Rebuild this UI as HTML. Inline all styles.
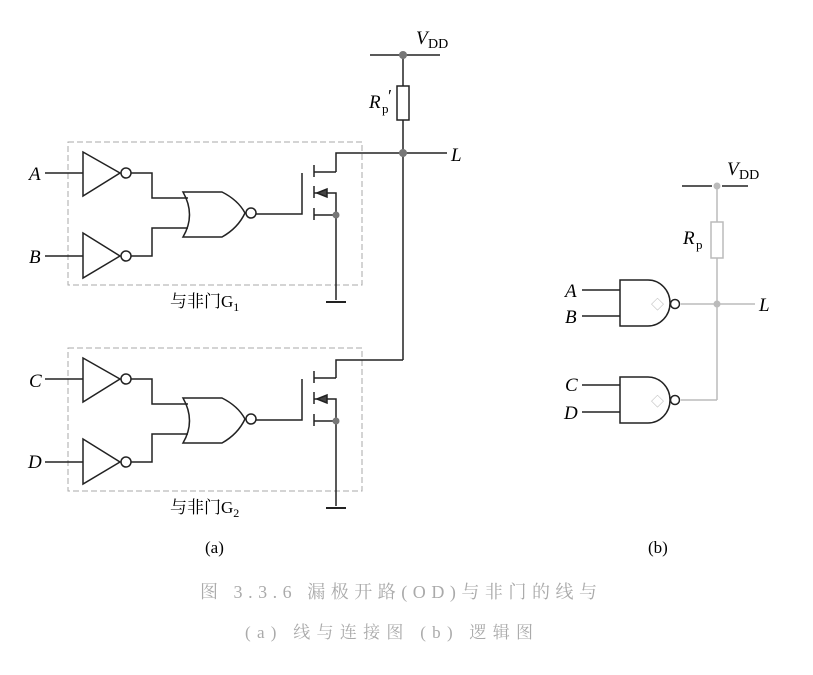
<!DOCTYPE html>
<html><head><meta charset="utf-8"><style>
body{margin:0;background:#fff;}
svg{display:block;}
text{font-family:"Liberation Serif","Noto Serif CJK SC",serif;}
.i{font-style:italic;font-size:19px;}
</style></head><body>
<svg width="813" height="675" viewBox="0 0 813 675" xmlns="http://www.w3.org/2000/svg">
<defs>
<g id="gate" stroke="#222" stroke-width="1.5" fill="none">
  <rect x="68" y="142" width="294" height="143" stroke="#aaa" stroke-width="1" stroke-dasharray="6,3"/>
  <line x1="45" y1="173" x2="83" y2="173"/>
  <path d="M83,152 L120,173 L83,196 Z"/>
  <circle cx="126" cy="173" r="5"/>
  <line x1="45" y1="256" x2="83" y2="256"/>
  <path d="M83,233 L120,256 L83,278 Z"/>
  <circle cx="126" cy="256" r="5"/>
  <path d="M131,173 H152 V198 H188"/>
  <path d="M131,256 H152 V228 H188"/>
  <path d="M183,192 Q205,192 222,192 Q238,200 245,213 Q238,228 222,237 Q205,237 183,237 Q196,215 183,192 Z"/>
  <circle cx="251" cy="213" r="5"/>
  <path d="M256,214 H302 V173"/>
  <line x1="314" y1="165" x2="314" y2="177"/>
  <line x1="314" y1="186" x2="314" y2="198"/>
  <line x1="314" y1="208" x2="314" y2="220"/>
  <path d="M314,172 H336"/>
  <path d="M314,193 H336 V215 M314,215 H336 V300"/>
  <path d="M317,193 L327,189 L327,197 Z" fill="#444"/>
  <circle cx="336" cy="215" r="3.5" fill="#777" stroke="none"/>
  <line x1="326" y1="302" x2="346" y2="302" stroke-width="2"/>
</g>
</defs>
<use href="#gate"/>
<use href="#gate" transform="translate(0,206)"/>
<g stroke="#222" stroke-width="1.5" fill="none">
  <line x1="370" y1="55" x2="440" y2="55"/>
  <line x1="403" y1="55" x2="403" y2="86"/>
  <rect x="397" y="86" width="12" height="34"/>
  <line x1="403" y1="120" x2="403" y2="360"/>
  <path d="M336,172 V153 H447"/>
  <path d="M336,378 V360 H403"/>
</g>
<circle cx="403" cy="55" r="4" fill="#777"/>
<circle cx="403" cy="153" r="4" fill="#777"/>
<text x="416" y="44" class="i">V</text><text x="428" y="48" font-size="14">DD</text>
<text x="369" y="108" class="i">R</text><text x="382" y="113" font-size="13">p</text><text x="388" y="102" font-size="18">′</text>
<text x="451" y="161" class="i">L</text>
<text x="29" y="180" class="i">A</text>
<text x="29" y="263" class="i">B</text>
<text x="29" y="387" class="i">C</text>
<text x="28" y="468" class="i">D</text>
<text x="170" y="307" font-size="17" font-family="Liberation Serif,Noto Sans CJK SC,serif">与非门G<tspan font-size="12" dy="4">1</tspan></text>
<text x="170" y="513" font-size="17" font-family="Liberation Serif,Noto Sans CJK SC,serif">与非门G<tspan font-size="12" dy="4">2</tspan></text>
<text x="205" y="553" font-size="17">(a)</text>
<text x="648" y="553" font-size="17">(b)</text>
<!-- (b) -->
<g stroke="#bbb" stroke-width="1.5" fill="none">
  <line x1="717" y1="186" x2="717" y2="222"/>
  <rect x="711" y="222" width="12" height="36"/>
  <line x1="717" y1="258" x2="717" y2="400"/>
  <line x1="681" y1="304" x2="755" y2="304"/>
  <path d="M681,400 H717"/>
</g>
<g stroke="#222" stroke-width="1.5" fill="none">
  <line x1="682" y1="186" x2="712" y2="186"/>
  <line x1="722" y1="186" x2="748" y2="186"/>
  <path d="M620,280 H648 A22,23 0 0 1 648,326 H620 Z"/>
  <circle cx="675" cy="304" r="4.5"/>
  <line x1="582" y1="290" x2="620" y2="290"/><line x1="582" y1="316" x2="620" y2="316"/>
  <path d="M620,377 H648 A22,23 0 0 1 648,423 H620 Z"/>
  <circle cx="675" cy="400" r="4.5"/>
  <line x1="582" y1="385" x2="620" y2="385"/><line x1="582" y1="412" x2="620" y2="412"/>
</g>
<text x="651" y="309" font-size="13" fill="#bbb">◇</text>
<text x="651" y="406" font-size="13" fill="#bbb">◇</text>
<circle cx="717" cy="186" r="3.5" fill="#bbb"/>
<circle cx="717" cy="304" r="3.5" fill="#bbb"/>
<text x="727" y="175" class="i">V</text><text x="739" y="179" font-size="14">DD</text>
<text x="683" y="244" class="i">R</text><text x="696" y="249" font-size="13">p</text>
<text x="759" y="311" class="i">L</text>
<text x="565" y="297" class="i">A</text>
<text x="565" y="323" class="i">B</text>
<text x="565" y="391" class="i">C</text>
<text x="564" y="419" class="i">D</text>
<text x="200" y="598" font-size="18" fill="#aaa" font-family="Liberation Serif,Noto Sans CJK SC,serif" textLength="397">图 3.3.6  漏极开路(OD)与非门的线与</text>
<text x="245" y="638" font-size="17" fill="#aaa" font-family="Liberation Serif,Noto Sans CJK SC,serif" textLength="288">(a) 线与连接图  (b) 逻辑图</text>
</svg>
</body></html>
